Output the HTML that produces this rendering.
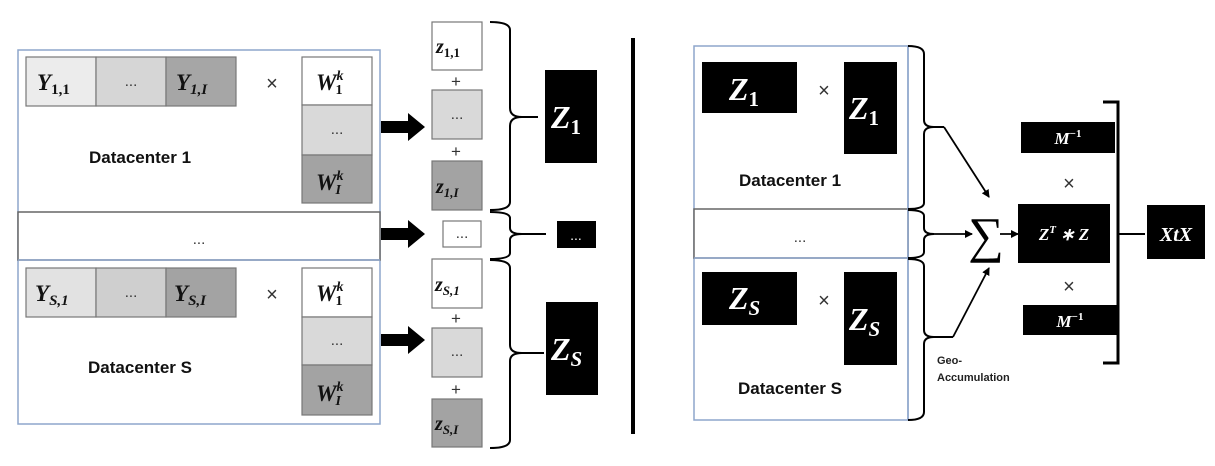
<!DOCTYPE html>
<html><head><meta charset="utf-8"><style>
html,body{margin:0;padding:0;background:#fff;}
svg{display:block;}
.m{font-family:"Liberation Serif",serif;font-style:italic;font-weight:bold;}
.s{font-family:"Liberation Sans",sans-serif;font-weight:bold;}
</style></head><body>
<svg width="1215" height="466" viewBox="0 0 1215 466" xmlns="http://www.w3.org/2000/svg">
<defs>
<marker id="ah" markerWidth="8" markerHeight="8" refX="7" refY="4" orient="auto" markerUnits="userSpaceOnUse"><path d="M0,0 L8,4 L0,8 z" fill="#000"/></marker>
</defs>
<!-- LEFT PANEL -->
<rect x="18" y="50" width="362" height="374" fill="#fff" stroke="#8ea6cc" stroke-width="1.5"/>
<rect x="18" y="212" width="362" height="48" fill="#fff" stroke="#666" stroke-width="1.5"/>
<line x1="18" y1="260" x2="380" y2="260" stroke="#8ea6cc" stroke-width="1.5"/>
<g stroke="#777" stroke-width="1.2">
<rect x="26" y="57" width="70" height="49" fill="#ececec"/>
<rect x="96" y="57" width="70" height="49" fill="#d6d6d6"/>
<rect x="166" y="57" width="70" height="49" fill="#a6a6a6"/>
<rect x="302" y="57" width="70" height="48" fill="#fff"/>
<rect x="302" y="105" width="70" height="50" fill="#d9d9d9"/>
<rect x="302" y="155" width="70" height="48" fill="#a3a3a3"/>
<rect x="26" y="268" width="70" height="49" fill="#e2e2e2"/>
<rect x="96" y="268" width="70" height="49" fill="#cfcfcf"/>
<rect x="166" y="268" width="70" height="49" fill="#a3a3a3"/>
<rect x="302" y="268" width="70" height="49" fill="#fff"/>
<rect x="302" y="317" width="70" height="48" fill="#d9d9d9"/>
<rect x="302" y="365" width="70" height="50" fill="#a3a3a3"/>
</g>
<!-- Z column -->
<g stroke="#777" stroke-width="1.2">
<rect x="432" y="22" width="50" height="48" fill="#fff"/>
<rect x="432" y="90" width="50" height="49" fill="#d9d9d9"/>
<rect x="432" y="161" width="50" height="49" fill="#a3a3a3"/>
<rect x="443" y="221" width="38" height="26" fill="#fff"/>
<rect x="432" y="259" width="50" height="49" fill="#fff"/>
<rect x="432" y="328" width="50" height="49" fill="#d9d9d9"/>
<rect x="432" y="399" width="50" height="48" fill="#a3a3a3"/>
</g>
<g class="m" font-size="23" fill="#111">
<text x="37" y="90">Y<tspan font-size="15" dy="4" font-style="normal">1,1</tspan></text>
<text x="176" y="90">Y<tspan font-size="15" dy="4">1,I</tspan></text>
<text x="35" y="301">Y<tspan font-size="15" dy="4">S,1</tspan></text>
<text x="174" y="301">Y<tspan font-size="15" dy="4">S,I</tspan></text>
<text x="316" y="90">W<tspan font-size="14" dy="-10">k</tspan><tspan font-size="14" dx="-8" dy="14" font-style="normal">1</tspan></text>
<text x="316" y="190">W<tspan font-size="14" dy="-10">k</tspan><tspan font-size="14" dx="-8" dy="14">I</tspan></text>
<text x="316" y="301">W<tspan font-size="14" dy="-10">k</tspan><tspan font-size="14" dx="-8" dy="14" font-style="normal">1</tspan></text>
<text x="316" y="401">W<tspan font-size="14" dy="-10">k</tspan><tspan font-size="14" dx="-8" dy="14">I</tspan></text>
</g>
<g font-family="Liberation Sans,sans-serif" font-size="15" fill="#333" text-anchor="middle">
<text x="131" y="86">...</text><text x="337" y="134">...</text>
<text x="131" y="297">...</text><text x="337" y="345">...</text>
<text x="199" y="244">...</text>
<text x="457" y="119">...</text><text x="462" y="238">...</text><text x="457" y="356">...</text>
</g>
<g font-family="Liberation Sans,sans-serif" font-size="20" fill="#333" text-anchor="middle">
<text x="272" y="90">×</text><text x="272" y="301">×</text>
</g>
<text class="s" x="140" y="163" font-size="17" text-anchor="middle" fill="#111">Datacenter 1</text>
<text class="s" x="140" y="373" font-size="17" text-anchor="middle" fill="#111">Datacenter S</text>
<g fill="#000">
<path d="M381,121 L408,121 L408,113 L425,127 L408,141 L408,133 L381,133 z"/>
<path d="M381,228 L408,228 L408,220 L425,234 L408,248 L408,240 L381,240 z"/>
<path d="M381,334 L408,334 L408,326 L425,340 L408,354 L408,346 L381,346 z"/>
</g>
<g class="m" font-size="20" fill="#111">
<text x="436" y="53">z<tspan font-size="13" dy="4" font-style="normal">1,1</tspan></text>
<text x="436" y="193">z<tspan font-size="13" dy="4">1,I</tspan></text>
<text x="435" y="291">z<tspan font-size="13" dy="4">S,1</tspan></text>
<text x="435" y="430">z<tspan font-size="13" dy="4">S,I</tspan></text>
</g>
<g font-family="Liberation Sans,sans-serif" font-size="17" fill="#333" text-anchor="middle">
<text x="456" y="87">+</text><text x="456" y="157">+</text>
<text x="456" y="324">+</text><text x="456" y="395">+</text>
</g>
<g fill="none" stroke="#000" stroke-width="2">
<path d="M490,22 Q510,22 510,30 L510,108 Q510,117 522,117 L538,117 M522,117 Q510,117 510,126 L510,202 Q510,210 490,210"/>
<path d="M490,212 Q510,212 510,218 L510,228 Q510,234 522,234 L546,234 M522,234 Q510,234 510,240 L510,253 Q510,259 490,259"/>
<path d="M490,260 Q510,260 510,268 L510,345 Q510,353 522,353 L544,353 M522,353 Q510,353 510,361 L510,440 Q510,448 490,448"/>
</g>
<rect x="545" y="70" width="52" height="93" fill="#000"/>
<rect x="557" y="221" width="39" height="27" fill="#000"/>
<rect x="546" y="302" width="52" height="93" fill="#000"/>
<g class="m" fill="#fff">
<text x="551" y="128" font-size="32">Z<tspan font-size="21" dy="6" font-style="normal">1</tspan></text>
<text x="551" y="360" font-size="32">Z<tspan font-size="21" dy="6">S</tspan></text>
</g>
<text x="576" y="240" font-family="Liberation Sans,sans-serif" font-size="14" fill="#fff" text-anchor="middle">...</text>
<rect x="631" y="38" width="4" height="396" fill="#000"/>
<!-- RIGHT PANEL -->
<rect x="694" y="46" width="214" height="374" fill="#fff" stroke="#8ea6cc" stroke-width="1.5"/>
<rect x="694" y="209" width="214" height="49" fill="#fff" stroke="#666" stroke-width="1.5"/>
<line x1="694" y1="258" x2="908" y2="258" stroke="#8ea6cc" stroke-width="1.5"/>
<line x1="908" y1="46" x2="908" y2="420" stroke="#8ea6cc" stroke-width="1.5"/>
<rect x="702" y="62" width="95" height="51" fill="#000"/>
<rect x="844" y="62" width="53" height="92" fill="#000"/>
<rect x="702" y="272" width="95" height="53" fill="#000"/>
<rect x="844" y="272" width="53" height="93" fill="#000"/>
<g class="m" fill="#fff">
<text x="729" y="100" font-size="32">Z<tspan font-size="21" dy="6" font-style="normal">1</tspan></text>
<text x="849" y="119" font-size="32">Z<tspan font-size="21" dy="6" font-style="normal">1</tspan></text>
<text x="729" y="309" font-size="32">Z<tspan font-size="21" dy="6">S</tspan></text>
<text x="849" y="330" font-size="32">Z<tspan font-size="21" dy="6">S</tspan></text>
</g>
<g font-family="Liberation Sans,sans-serif" font-size="20" fill="#333" text-anchor="middle">
<text x="824" y="97">×</text><text x="824" y="307">×</text>
<text x="1069" y="190">×</text><text x="1069" y="293">×</text>
</g>
<text class="s" x="790" y="186" font-size="17" text-anchor="middle" fill="#111">Datacenter 1</text>
<text class="s" x="790" y="394" font-size="17" text-anchor="middle" fill="#111">Datacenter S</text>
<text x="800" y="242" font-family="Liberation Sans,sans-serif" font-size="15" fill="#333" text-anchor="middle">...</text>
<g fill="none" stroke="#000" stroke-width="2">
<path d="M908,46 Q924,46 924,54 L924,120 Q924,127 934,127 L944,127 M934,127 Q924,127 924,134 L924,203 Q924,209 908,209"/>
<path d="M908,210 Q924,210 924,216 L924,228 Q924,234 934,234 M934,234 Q924,234 924,240 L924,252 Q924,258 908,258"/>
<path d="M908,259 Q924,259 924,266 L924,330 Q924,337 934,337 L953,337 M934,337 Q924,337 924,344 L924,412 Q924,420 908,420"/>
</g>
<g stroke="#000" stroke-width="1.8" fill="none" marker-end="url(#ah)">
<line x1="944" y1="127" x2="989" y2="197"/>
<line x1="934" y1="234" x2="972" y2="234"/>
<line x1="953" y1="337" x2="989" y2="268"/>
<line x1="1000" y1="234" x2="1018" y2="234"/>
</g>
<text x="986" y="252" font-family="Liberation Serif,serif" font-size="50" text-anchor="middle" fill="#000">∑</text>
<text class="s" x="937" y="364" font-size="11" fill="#222">Geo-</text>
<text class="s" x="937" y="381" font-size="11" fill="#222">Accumulation</text>
<rect x="1021" y="122" width="94" height="31" fill="#000"/>
<rect x="1018" y="204" width="92" height="59" fill="#000"/>
<rect x="1023" y="305" width="94" height="30" fill="#000"/>
<path d="M1103,102 L1118,102 L1118,363 L1103,363" fill="none" stroke="#000" stroke-width="3"/>
<line x1="1118" y1="234" x2="1145" y2="234" stroke="#000" stroke-width="2"/>
<rect x="1147" y="205" width="58" height="54" fill="#000"/>
<g class="m" fill="#fff" text-anchor="middle">
<text x="1068" y="144" font-size="17">M<tspan font-size="11" dy="-7" font-style="normal">−1</tspan></text>
<text x="1064" y="240" font-size="17">Z<tspan font-size="11" dy="-7">T</tspan><tspan dy="7"> ∗ Z</tspan></text>
<text x="1070" y="327" font-size="17">M<tspan font-size="11" dy="-7" font-style="normal">−1</tspan></text>
<text x="1176" y="241" font-size="20">XtX</text>
</g>
</svg>
</body></html>
